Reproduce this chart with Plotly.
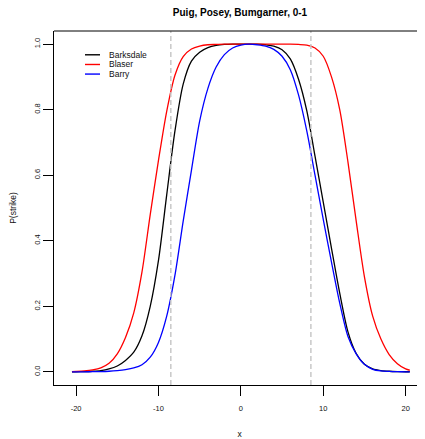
import plotly.graph_objects as go

# ---- data ----
x_vals = [-20.5, -20, -19, -18, -17, -16, -15, -14, -13, -12, -11, -10, -9, -8, -7, -6, -5, -4, -3, -2, -1,
          0, 1, 2, 3, 4, 5, 6, 7, 8, 9, 10, 11, 12, 13, 14, 15, 16, 17, 18, 19, 20, 20.5]

barksdale = [0.0004, 0.0005, 0.001, 0.002, 0.004, 0.009, 0.018, 0.035, 0.06, 0.11, 0.20, 0.34, 0.54, 0.735,
             0.878, 0.948, 0.975, 0.989, 0.996, 0.999, 1.0,
             1.0, 1.0, 1.0, 0.998, 0.994, 0.983, 0.955, 0.893, 0.797, 0.658, 0.518, 0.377, 0.24, 0.122, 0.056,
             0.023, 0.009, 0.004, 0.002, 0.001, 0.0005, 0.0004]

blaser = [0.001, 0.0015, 0.003, 0.006, 0.012, 0.026, 0.055, 0.105, 0.18, 0.305, 0.48, 0.645, 0.795, 0.905,
          0.962, 0.985, 0.994, 0.998, 0.999, 1.0, 1.0,
          1.0, 1.0, 1.0, 1.0, 1.0, 1.0, 1.0, 0.999, 0.997, 0.988, 0.963, 0.90, 0.80, 0.64, 0.46,
          0.29, 0.17, 0.10, 0.053, 0.025, 0.009, 0.005]

barry = [0.0002, 0.0002, 0.0003, 0.0006, 0.001, 0.002, 0.004, 0.007, 0.012, 0.022, 0.045, 0.09, 0.17, 0.295,
         0.46, 0.615, 0.765, 0.865, 0.93, 0.968, 0.988,
         0.997, 1.0, 0.998, 0.994, 0.984, 0.963, 0.922, 0.845, 0.735, 0.60, 0.465, 0.335, 0.21, 0.108, 0.055,
         0.023, 0.008, 0.003, 0.0015, 0.0007, 0.0003, 0.0002]

series_names = ["Barksdale", "Blaser", "Barry"]
series_colors = ["#000000", "#FF0000", "#0000FF"]
cutoffs = [-8.5, 8.5]
x_ticks = [-20, -10, 0, 10, 20]
y_ticks = [0.0, 0.2, 0.4, 0.6, 0.8, 1.0]
y_tick_labels = ["0.0", "0.2", "0.4", "0.6", "0.8", "1.0"]

FONT = "Liberation Sans, Arial, sans-serif"
OFF = 8  # page body margin offset

fig = go.Figure()

for c in cutoffs:
    fig.add_vline(x=c, line=dict(color="#C4C4C4", width=1.4, dash="5px,3px"))

for name, ys, col in zip(series_names, [barksdale, blaser, barry], series_colors):
    fig.add_trace(go.Scatter(x=x_vals, y=ys, mode="lines", name=name,
                             line=dict(color=col, width=1.3, shape="spline", smoothing=0.8),
                             showlegend=False))

# manual legend (no box), like R's legend(bty="n")
L_AREA, R_AREA, T_AREA, B_AREA = 54.0, 425.0, 31.2, 385.4
def px2paper_x(px):
    return (px - L_AREA) / (R_AREA - L_AREA)
def px2paper_y(py):
    return (B_AREA - py) / (B_AREA - T_AREA)

legend_rows = [55.0, 64.7, 74.3]
for name, col, py in zip(series_names, series_colors, legend_rows):
    fig.add_shape(type="line", xref="paper", yref="paper",
                  x0=px2paper_x(85), x1=px2paper_x(100), y0=px2paper_y(py), y1=px2paper_y(py),
                  line=dict(color=col, width=1.4))
    fig.add_annotation(xref="paper", yref="paper", x=px2paper_x(106.5), y=px2paper_y(py),
                       text=name, showarrow=False, xanchor="left", yanchor="middle",
                       font=dict(family=FONT, size=8.5, color="#111111"))

# top border of box
fig.add_shape(type="line", xref="paper", yref="paper", x0=0, x1=1, y0=1, y1=1,
              line=dict(color="#000000", width=1))

W, H = 425 - OFF, 439 - OFF
fig.update_layout(
    width=W, height=H,
    margin=dict(l=54 - OFF, r=0, t=31 - OFF, b=439 - 385 - 0),
    paper_bgcolor="white", plot_bgcolor="white",
    font=dict(family=FONT, size=7.5, color="#111111"),
    title=dict(text="<b>Puig, Posey, Bumgarner, 0-1</b>", x=(240 - OFF) / W, xref="container",
               xanchor="center", y=1 - (12 - OFF) / H, yref="container", yanchor="middle",
               font=dict(family=FONT, size=10, color="#000000")),
    xaxis=dict(range=[-22.68, 22.35], tickvals=x_ticks, ticktext=[str(v) for v in x_ticks],
               ticks="outside", ticklen=10, tickwidth=1, tickcolor="#000000",
               showline=True, linecolor="#000000", linewidth=1,
               showgrid=False, zeroline=False, ticklabelstandoff=6,
               tickfont=dict(family=FONT, size=7.5, color="#111111"),
               title=dict(text="x", standoff=22, font=dict(family=FONT, size=8.5, color="#111111")),
               automargin=False),
    yaxis=dict(range=[-0.04, 1.04], tickvals=y_ticks, ticktext=y_tick_labels, tickangle=-90,
               ticks="outside", ticklen=10, tickwidth=1, tickcolor="#000000",
               showline=True, linecolor="#000000", linewidth=1,
               showgrid=False, zeroline=False,
               tickfont=dict(family=FONT, size=7.5, color="#111111"),
               title=dict(text="P(strike)", standoff=16, font=dict(family=FONT, size=8.5, color="#111111")),
               automargin=False),
)

fig.write_html("out.html")
